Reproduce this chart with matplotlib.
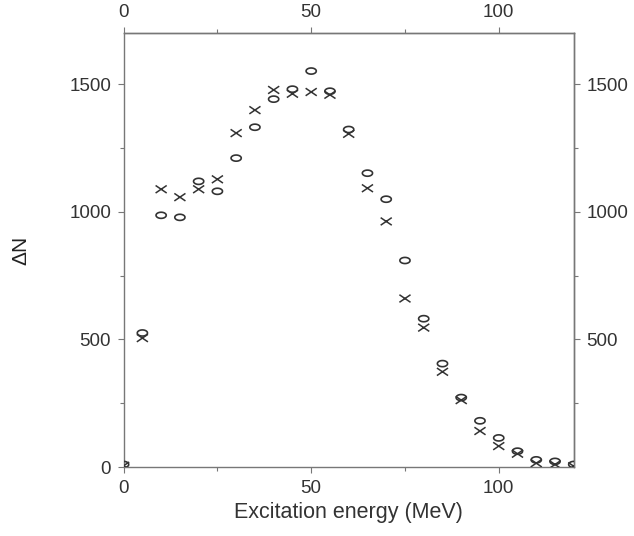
import numpy as np
import matplotlib.pyplot as plt
from matplotlib.path import Path

plt.rcParams['font.family'] = ['Liberation Sans', 'DejaVu Sans']

# excitation energy (MeV)
energy = [0, 5, 10, 15, 20, 25, 30, 35, 40, 45, 50, 55, 60, 65, 70, 75, 80,
          85, 90, 95, 100, 105, 110, 115, 120]
# delta N, 'x' series
dn_x = [5, 505, 1088, 1057, 1088, 1127, 1308, 1398, 1477, 1462, 1469, 1458,
        1305, 1092, 962, 660, 546, 373, 262, 141, 82, 52, 15, 10, 3]
# delta N, 'o' series
dn_o = [10, 525, 986, 978, 1119, 1080, 1210, 1331, 1441, 1480, 1551, 1472,
        1322, 1151, 1049, 809, 581, 405, 272, 181, 114, 62, 28, 22, 10]

# flattened "o" and "x" like the printed letters
t = np.linspace(0, 2 * np.pi, 60)
oval = Path(np.column_stack([np.cos(t), 0.6 * np.sin(t)]))
cross = Path([(-1, -0.68), (1, 0.68), (-1, 0.68), (1, -0.68)],
             [Path.MOVETO, Path.LINETO, Path.MOVETO, Path.LINETO])

fig = plt.figure(figsize=(6.34, 5.36), dpi=100)
ax = fig.add_axes([0.195, 0.1287, 0.71, 0.8097])

ax.scatter(energy, dn_x, marker=cross, s=64, facecolors='none', edgecolors='#333333',
           linewidths=1.1, zorder=3)
ax.scatter(energy, dn_o, marker=oval, s=54, facecolors='none', edgecolors='#333333',
           linewidths=1.2, zorder=3)

ax.set_xlim(0, 120)
ax.set_ylim(0, 1700)
ax.set_xticks([0, 50, 100])
ax.set_xticks([25, 75], minor=True)
ax.set_yticks([0, 500, 1000, 1500])
ax.set_yticks([250, 750, 1250], minor=True)

sec_x = ax.secondary_xaxis('top')
sec_x.set_xticks([0, 50, 100])
sec_x.set_xticks([25, 75], minor=True)
sec_y = ax.secondary_yaxis('right')
sec_y.set_yticks([500, 1000, 1500])
sec_y.set_yticks([250, 750, 1250], minor=True)

for a in (ax, sec_x, sec_y):
    a.tick_params(which='major', length=4, width=0.8, color='#777777', labelsize=13.5,
                  labelcolor='#333333', pad=5)
    a.tick_params(which='minor', length=3, width=0.8, color='#777777')
    for sp in a.spines.values():
        sp.set_color('#777777')
        sp.set_linewidth(1.0)
for sp in ax.spines.values():
    sp.set_color('#777777')

ax.set_xlabel('Excitation energy (MeV)', fontsize=15.5, color='#333333', labelpad=4)
ax.set_ylabel('ΔN', fontsize=15, color='#222222', labelpad=28)

fig.savefig('out.png', dpi=100)
